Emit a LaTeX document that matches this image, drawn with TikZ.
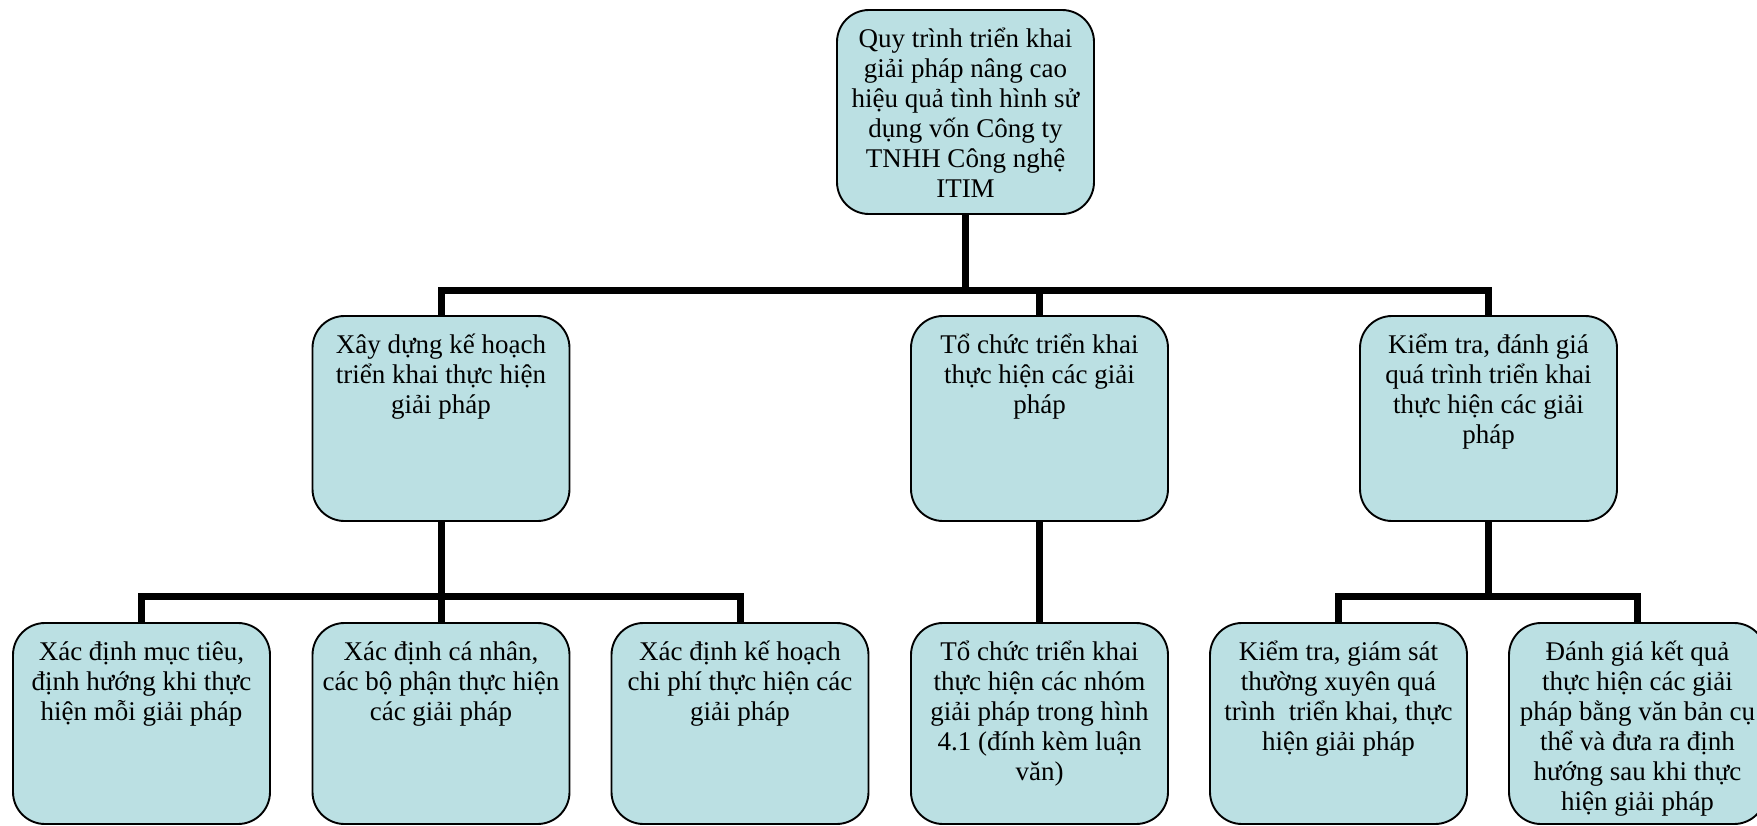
\documentclass[tikz,border=0pt]{standalone}
\usepackage{fontspec}
\setmainfont{Liberation Serif}
\definecolor{boxfill}{RGB}{187,224,227}
% text block of a box: fixed height, lines hung from the top
\newcommand\boxtext[2]{\parbox[t][#1][t]{257pt}{\lineskiplimit=-100pt\centering\rule{0pt}{37pt}#2}}
\tikzset{
  orgbox/.style={draw=black, line width=1.9pt, fill=boxfill, rounded corners=32pt,
    inner sep=0pt, font=\fontsize{27}{30}\selectfont},
  conn/.style={draw=black, line width=7pt, line join=miter}
}
\begin{document}
\begin{tikzpicture}[x=1pt, y=-1pt]
\useasboundingbox (0,0) rectangle (1757,825);

% top level
\node[orgbox] (top) at (965.5,112) {\boxtext{204pt}{Quy trình triển khai\\ giải pháp nâng cao\\ hiệu quả tình hình sử\\ dụng vốn Công ty\\ TNHH Công nghệ\\ ITIM}};

% second level
\node[orgbox] (A) at (441,418.5) {\boxtext{205pt}{Xây dựng kế hoạch\\ triển khai thực hiện\\ giải pháp}};
\node[orgbox] (B) at (1039.5,418.5) {\boxtext{205pt}{Tổ chức triển khai\\ thực hiện các giải\\ pháp}};
\node[orgbox] (C) at (1488.5,418.5) {\boxtext{205pt}{Kiểm tra, đánh giá\\ quá trình triển khai\\ thực hiện các giải\\ pháp}};

% third level
\node[orgbox] (A1) at (141.5,723.5) {\boxtext{201pt}{Xác định mục tiêu,\\ định hướng khi thực\\ hiện mỗi giải pháp}};
\node[orgbox] (A2) at (441,723.5) {\boxtext{201pt}{Xác định cá nhân,\\ các bộ phận thực hiện\\ các giải pháp}};
\node[orgbox] (A3) at (740,723.5) {\boxtext{201pt}{Xác định kế hoạch\\ chi phí thực hiện các\\ giải pháp}};
\node[orgbox] (B1) at (1039.5,723.5) {\boxtext{201pt}{Tổ chức triển khai\\ thực hiện các nhóm\\ giải pháp trong hình\\ 4.1 (đính kèm luận\\ văn)}};
\node[orgbox] (C1) at (1338.5,723.5) {\boxtext{201pt}{Kiểm tra, giám sát\\ thường xuyên quá\\ trình\ \ triển khai, thực\\ hiện giải pháp}};
\node[orgbox] (C2) at (1637.5,723.5) {\boxtext{201pt}{Đánh giá kết quả\\ thực hiện các giải\\ pháp bằng văn bản cụ\\ thể và đưa ra định\\ hướng sau khi thực\\ hiện giải pháp}};

% elbow connectors through bus points
\coordinate (bus0) at (965.5,290);
\coordinate (busA) at (441,596);
\coordinate (busC) at (1488.5,596);

\draw[conn] (top.south) -- (bus0);
\draw[conn] (bus0) -| (A.north);
\draw[conn] (bus0) -| (B.north);
\draw[conn] (bus0) -| (C.north);

\draw[conn] (A.south) -- (busA);
\draw[conn] (busA) -| (A1.north);
\draw[conn] (busA) -- (A2.north);
\draw[conn] (busA) -| (A3.north);

\draw[conn] (B.south) -- (B1.north);

\draw[conn] (C.south) -- (busC);
\draw[conn] (busC) -| (C1.north);
\draw[conn] (busC) -| (C2.north);
\end{tikzpicture}
\end{document}
